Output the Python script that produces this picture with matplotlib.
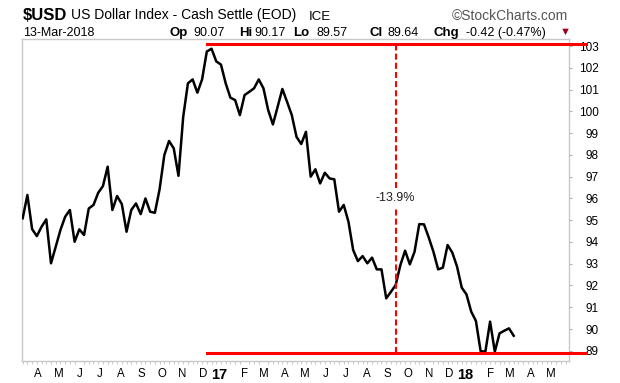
import datetime as dt
import matplotlib
matplotlib.use("Agg")
import matplotlib.pyplot as plt
import matplotlib.dates as mdates
from matplotlib.ticker import FixedLocator, FixedFormatter

plt.rcParams['font.family'] = ['Liberation Sans', 'DejaVu Sans']

# ---------------- data ----------------
start_date = dt.date(2016, 3, 14)   # weekly closes
close = [95.09, 96.16, 94.59, 94.27, 94.70, 95.04, 93.02, 93.78, 94.55, 95.16,
         95.47, 94.01, 94.58, 94.32, 95.54, 95.70, 96.26, 96.57, 97.46, 95.47,
         96.11, 95.74, 94.47, 95.47, 95.77, 95.28, 96.00, 95.39, 95.34, 96.42,
         97.99, 98.64, 98.30, 97.04, 99.75, 101.29, 101.47, 100.86, 101.47, 102.75,
         102.88, 102.30, 102.15, 101.29, 100.63, 100.52, 99.83, 100.75, 100.90, 101.06,
         101.47, 101.06, 100.06, 99.40, 100.21, 101.03, 100.44, 99.83, 98.83, 98.50,
         99.06, 97.00, 97.34, 96.69, 97.18, 96.92, 96.88, 95.39, 95.70, 94.93,
         93.63, 93.12, 93.35, 93.02, 93.28, 92.74, 92.74, 91.41, 91.71, 92.02,
         92.94, 93.60, 92.97, 93.55, 94.82, 94.81, 94.21, 93.55, 92.74, 92.82,
         93.86, 93.51, 92.87, 91.90, 91.59, 90.80, 90.37, 88.98, 88.96, 90.34,
         88.96, 89.80, 89.92, 90.03, 89.69]
dates = [start_date + dt.timedelta(weeks=i) for i in range(len(close))]

month_labels = ['A', 'M', 'J', 'J', 'A', 'S', 'O', 'N', 'D', '17', 'F', 'M', 'A',
                'M', 'J', 'J', 'A', 'S', 'O', 'N', 'D', '18', 'F', 'M', 'A', 'M']
y_ticks = list(range(89, 104))

peak_level = 103.1
trough_level = 88.9
peak_date = dt.date(2016, 12, 12)
split_date = dt.date(2017, 9, 18)
change_label = '-13.9%'

# ---------------- figure ----------------
W, H = 620, 383
fig = plt.figure(figsize=(W / 100, H / 100), dpi=100)
fig.patch.set_facecolor('white')

def fx(px):
    return px / W

def fy(py):
    return 1 - py / H

ax_l, ax_r, ax_t, ax_b = 22, 569, 38.5, 361
ax = fig.add_axes([fx(ax_l), fy(ax_b), fx(ax_r - ax_l), (ax_b - ax_t) / H])

ax.plot(dates, close, color='black', lw=1.8, solid_joinstyle='round', zorder=3)

# red annotation lines
xmin_frac = (207 - ax_l) / (ax_r - ax_l)
xmax_frac = (586 - ax_l) / (ax_r - ax_l)
for lvl in (peak_level, trough_level):
    ax.axhline(lvl, xmin=xmin_frac, xmax=xmax_frac, color='#ff0000', lw=2.2,
               clip_on=False, zorder=4)
ax.plot([split_date, split_date], [trough_level, peak_level], color='#ff0000',
        lw=1.5, ls=(0, (2.9, 1.5)), zorder=4)
ax.text(split_date, 96.04, change_label, ha='center', va='center', fontsize=9,
        color='#222222', zorder=5,
        bbox=dict(facecolor='white', edgecolor='none', pad=2.5))

# limits
ax.set_xlim(mdates.date2num(dt.date(2016, 3, 13)), mdates.date2num(dt.date(2018, 6, 2)))
ax.set_ylim(88.53, 103.35)

# spines
for s in ax.spines.values():
    s.set_color('#c8c8c8')
    s.set_linewidth(1.0)

# y axis on right
ax.yaxis.tick_right()
ax.set_yticks(y_ticks)
ax.set_yticklabels([str(v) for v in y_ticks])
ax.tick_params(axis='y', direction='out', length=2.5, width=0.8, colors='#b0b0b0',
               labelcolor='black', labelsize=8.5, pad=19)
for lab in ax.get_yticklabels():
    lab.set_horizontalalignment('right')

# x axis: month labels
month_pos = []
y0, m0 = 2016, 4
for i, lab in enumerate(month_labels):
    m = m0 + i
    yy = y0 + (m - 1) // 12
    mm = (m - 1) % 12 + 1
    d = dt.date(yy, mm, 1)
    off = -2 if lab in ('17', '18') else 5
    month_pos.append(mdates.date2num(d) + off)
ax.xaxis.set_major_locator(FixedLocator(month_pos))
ax.xaxis.set_major_formatter(FixedFormatter(month_labels))
ax.tick_params(axis='x', which='major', length=0, labelsize=8.3, pad=5)
for lab in ax.get_xticklabels():
    if lab.get_text() in ('17', '18'):
        lab.set_fontweight('bold')
        lab.set_fontsize(10.5)

minor_pos = [mdates.date2num(dt.date(2016, 3, 14) + dt.timedelta(weeks=k)) for k in range(0, 118)]
ax.xaxis.set_minor_locator(FixedLocator(minor_pos))
ax.tick_params(axis='x', which='minor', direction='out', length=2, width=0.6, colors='#c0c0c0')

# ---------------- header ----------------
b1 = fy(19.5)
b2 = fy(36)
fig.text(fx(23), b1, '$USD', fontsize=12, fontweight='bold', va='baseline')
fig.text(fx(71), b1, 'US Dollar Index - Cash Settle (EOD)', fontsize=10, va='baseline')
fig.text(fx(309), b1, 'ICE', fontsize=9.5, va='baseline')
fig.text(fx(568), b1, '\u00a9StockCharts.com', fontsize=10, va='baseline', ha='right',
         color='#555555')

fig.text(fx(23), b2, '13-Mar-2018', fontsize=9, va='baseline')
pieces = [
    (170, 'Op', True), (193, '90.07', False),
    (239, 'Hi', True), (254, '90.17', False),
    (293, 'Lo', True), (317, '89.57', False),
    (369, 'Cl', True), (387, '89.64', False),
    (433, 'Chg', True), (466, '-0.42 (-0.47%)', False),
]
for px, txt, bold in pieces:
    fig.text(fx(px), b2, txt, fontsize=9.5 if bold else 9,
             fontweight='bold' if bold else 'normal', va='baseline')
fig.text(fx(565), b2 + 0.003, '\u25bc', fontsize=8, va='baseline', ha='center',
         color='#a0001e')

fig.savefig('out.png', dpi=100, facecolor='white')
